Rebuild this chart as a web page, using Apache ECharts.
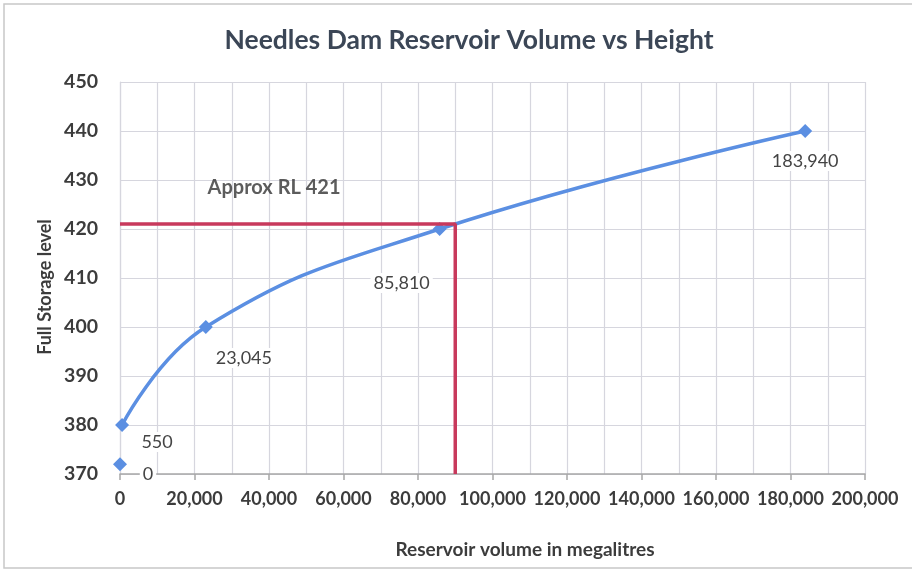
<!DOCTYPE html>
<html>
<head>
<meta charset="utf-8">
<script src="https://cdn.jsdelivr.net/npm/echarts@6/dist/echarts.min.js"></script>
<style>
  html, body { margin: 0; padding: 0; background: #ffffff; }
  #chart { width: 912px; height: 570px; }
</style>
</head>
<body>
<div id="chart"></div>
<script>
// Storage curve: reservoir volume (ML) against water level (RL)
const volumes = [0, 550, 23045, 85810, 183940];
const levels = [372, 380, 400, 420, 440];
const volumeLabels = ['0', '550', '23,045', '85,810', '183,940'];

// Approximate full storage guide
const rlLevel = 421;
const rlVolume = 90000;
const rlText = 'Approx RL 421';
const rlTextAnchor = [23500, 428.4];

// Axis ranges / ticks
const xMin = 0, xMax = 200000, xStep = 20000;
const yMin = 370, yMax = 450, yStep = 10;

// Label placement for each point (pixel offsets)
const labelOffsets = [[28, 10], [35, 17], [38, 31], [-38, 54], [0, 30]];

const FONT = 'Lato, "Open Sans", sans-serif';
const BLUE = '#5b8fe2';
const RED = '#c8395c';
const TXT = '#3c3c3c';

function fmt(v) { return Number(v).toLocaleString('en-US'); }

function pointData(i) {
  return {
    value: [volumes[i], levels[i]],
    label: {
      show: true,
      formatter: volumeLabels[i],
      position: 'inside',
      offset: labelOffsets[i],
      color: '#444444',
      fontFamily: FONT,
      fontSize: 18,
      backgroundColor: '#ffffff',
      padding: [1, 3]
    }
  };
}

const curve = [];
for (let i = 1; i < volumes.length; i++) curve.push(pointData(i));

const chart = echarts.init(document.getElementById('chart'), null, { renderer: 'canvas' });
chart.setOption({
  animation: false,
  backgroundColor: '#ffffff',
  title: {
    text: 'Needles Dam Reservoir Volume vs Height',
    left: 464, top: 22, textAlign: 'center',
    textStyle: { fontFamily: FONT, fontWeight: 'bold', fontSize: 26.5, color: '#3b4656' }
  },
  grid: { left: 120, right: 47, top: 82, bottom: 96, containLabel: false },
  xAxis: {
    type: 'value', min: xMin, max: xMax, interval: xStep,
    axisLine: { show: true, onZero: false, lineStyle: { color: '#a8a8a8', width: 1.5 } },
    axisTick: { show: true, length: 6, lineStyle: { color: '#a8a8a8', width: 1.5 } },
    axisLabel: { formatter: fmt, margin: 16, color: TXT, fontFamily: FONT, fontWeight: 'bold', fontSize: 18 },
    splitLine: { show: true, lineStyle: { color: '#d6d6de', width: 1.2 } },
    minorTick: { show: false, splitNumber: 2 },
    minorSplitLine: { show: true, lineStyle: { color: '#d6d6de', width: 1.2 } }
  },
  yAxis: {
    type: 'value', min: yMin, max: yMax, interval: yStep,
    axisLine: { show: true, lineStyle: { color: '#d6d6de', width: 1.2 } },
    axisTick: { show: false },
    axisLabel: { margin: 22, color: TXT, fontFamily: FONT, fontWeight: 'bold', fontSize: 19.5 },
    splitLine: { show: true, lineStyle: { color: '#d6d6de', width: 1.2 } }
  },
  graphic: [
    { type: 'rect', shape: { x: 4, y: 4, width: 930, height: 564 }, style: { fill: 'none', stroke: '#c8c8c8', lineWidth: 1.5 }, silent: true, z: -1 },
    { type: 'text', x: 45, y: 287, rotation: Math.PI / 2,
      style: { text: 'Full Storage level', fontFamily: FONT, fontWeight: 'bold', fontSize: 18, fill: TXT, align: 'center', verticalAlign: 'middle' } },
    { type: 'text', x: 525, y: 550,
      style: { text: 'Reservoir volume in megalitres', fontFamily: FONT, fontWeight: 'bold', fontSize: 19, fill: TXT, align: 'center', verticalAlign: 'middle' } }
  ],
  series: [
    {
      name: 'Storage curve', type: 'line', smooth: 0.45,
      data: curve,
      symbol: 'diamond', symbolSize: 14,
      lineStyle: { color: BLUE, width: 3.5 },
      itemStyle: { color: BLUE },
      z: 3
    },
    {
      name: 'Dam base', type: 'scatter',
      data: [pointData(0)],
      symbol: 'diamond', symbolSize: 14,
      itemStyle: { color: BLUE, opacity: 1 },
      z: 3
    },
    {
      name: 'Full storage guide', type: 'line',
      data: [[xMin, rlLevel], [rlVolume, rlLevel], [rlVolume, yMin]],
      symbol: 'none',
      lineStyle: { color: RED, width: 3.5 },
      z: 4
    },
    {
      name: 'Guide note', type: 'scatter',
      data: [{ value: rlTextAnchor }],
      symbolSize: 0,
      label: {
        show: true, formatter: rlText, position: 'right', distance: 0,
        color: '#333333', fontFamily: FONT, fontWeight: 'bold', fontSize: 20
      },
      z: 5
    }
  ]
});
</script>
</body>
</html>
